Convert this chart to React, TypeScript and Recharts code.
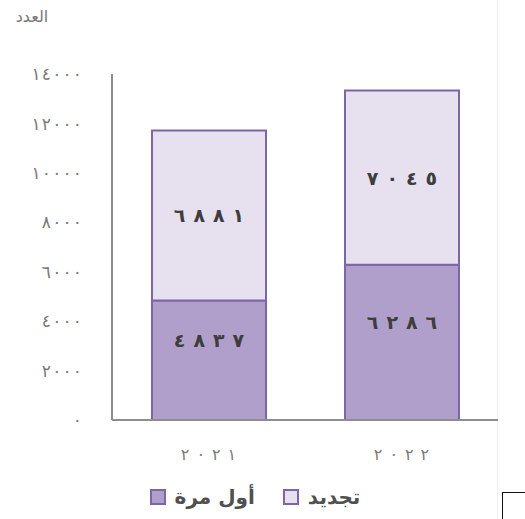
import React from 'react';
import { BarChart, Bar, XAxis, YAxis, Legend, LabelList } from 'recharts';

const years = ['٢٠٢١', '٢٠٢٢'];
const firstTime = [4837, 6286];
const renewal = [6881, 7045];
const yTicks = [0, 2000, 4000, 6000, 8000, 10000, 12000, 14000];
const seriesNames = ['أول مرة', 'تجديد'];
const yTitle = 'العدد';

const darkFill = '#b09fca';
const lightFill = '#e6e0ef';
const edge = '#7b67a8';
const axisGray = '#8d8d8d';
const tickGray = '#7a7a7a';
const font = '"DejaVu Sans", sans-serif';

const digits = '٠١٢٣٤٥٦٧٨٩';
const toArabic = (n: number | string) => String(n).replace(/\d/g, (d) => digits[Number(d)]);

const data = years.map((year, i) => ({ year, first: firstTime[i], renew: renewal[i] }));

// chrome ignores letter-spacing on arabic script, so space the digits by hand
const spaced = (s: string, gap: number) =>
	Array.from(s).map((ch, i) => (
		<tspan key={i} dx={i ? gap : 0}>{ch}</tspan>
	));

const barLabel = (shift: number) => (props: any) => {
	const vb = props.viewBox || props;
	const x = vb.x ?? props.x;
	const y = vb.y ?? props.y;
	const w = vb.width ?? props.width;
	const h = vb.height ?? props.height;
	return (
		<text
			x={x + w / 2}
			y={y + h / 2 + shift}
			textAnchor="middle"
			dominantBaseline="central"
			fill="#3d3d3d"
			fontFamily={font}
			fontWeight="bold"
			fontSize={19}
		>
			{spaced(toArabic(props.value), 8)}
		</text>
	);
};

const YTick = (props: any) => {
	const { x, y, payload } = props;
	return (
		<text x={x} y={y} dy="0.36em" textAnchor="end" fill={tickGray} fontSize={17} fontFamily={font}>
			{spaced(toArabic(payload.value), 1.2)}
		</text>
	);
};

const XTick = (props: any) => {
	const { x, y, payload } = props;
	return (
		<text x={x} y={y} dy="0.75em" textAnchor="middle" fill={tickGray} fontSize={16} fontFamily={font}>
			{spaced(payload.value, 7)}
		</text>
	);
};

const renderLegend = (props: any) => {
	const items = props.payload || [];
	return (
		<div style={{ display: 'flex', justifyContent: 'center', alignItems: 'center', height: 24, fontFamily: font, fontSize: 20, fontWeight: 'bold', color: '#505050' }}>
			{items.map((it: any, i: number) => (
				<span key={i} style={{ display: 'flex', alignItems: 'center', marginLeft: i ? 28 : 0 }}>
					<span style={{ width: 16, height: 16, boxSizing: 'border-box', background: it.color, border: `2px solid ${edge}`, marginRight: 9 }} />
					<span>{it.value}</span>
				</span>
			))}
		</div>
	);
};

export default function App() {
	return (
		<div style={{ position: 'absolute', left: 0, top: 0, width: 525, height: 519, background: '#fff' }}>
			<div style={{ position: 'absolute', left: 497, top: 0, width: 1, height: 519, background: '#eeeeee' }} />
			<div style={{ position: 'absolute', left: 502, top: 492, width: 30, height: 30, borderLeft: '1.5px solid #111', borderTop: '1.5px solid #111' }} />
			<BarChart width={510} height={519} data={data} margin={{ top: 74, right: 12, bottom: 10, left: 0 }}>
				<XAxis
					dataKey="year"
					height={65}
					tickLine={false}
					tickSize={0}
					tickMargin={28}
					axisLine={{ stroke: axisGray, strokeWidth: 2 }}
					tick={<XTick />}
				/>
				<YAxis
					width={112}
					domain={[0, 14000]}
					ticks={yTicks}
					interval={0}
					tickLine={false}
					tickSize={0}
					tickMargin={30}
					axisLine={{ stroke: axisGray, strokeWidth: 2 }}
					tick={<YTick />}
					label={{
						content: () => (
							<text x={32} y={22} textAnchor="middle" fill="#777" fontSize={16} fontFamily={font}>
								{yTitle}
							</text>
						)
					}}
				/>
				<Legend verticalAlign="bottom" align="center" content={renderLegend} wrapperStyle={{ left: 0, width: 510 }} />
				<Bar dataKey="first" name={seriesNames[0]} stackId="a" barSize={114} fill={darkFill} stroke={edge} strokeWidth={2} isAnimationActive={false}>
					<LabelList dataKey="first" content={barLabel(-20)} />
				</Bar>
				<Bar dataKey="renew" name={seriesNames[1]} stackId="a" barSize={114} fill={lightFill} stroke={edge} strokeWidth={2} isAnimationActive={false}>
					<LabelList dataKey="renew" content={barLabel(0)} />
				</Bar>
			</BarChart>
		</div>
	);
}
